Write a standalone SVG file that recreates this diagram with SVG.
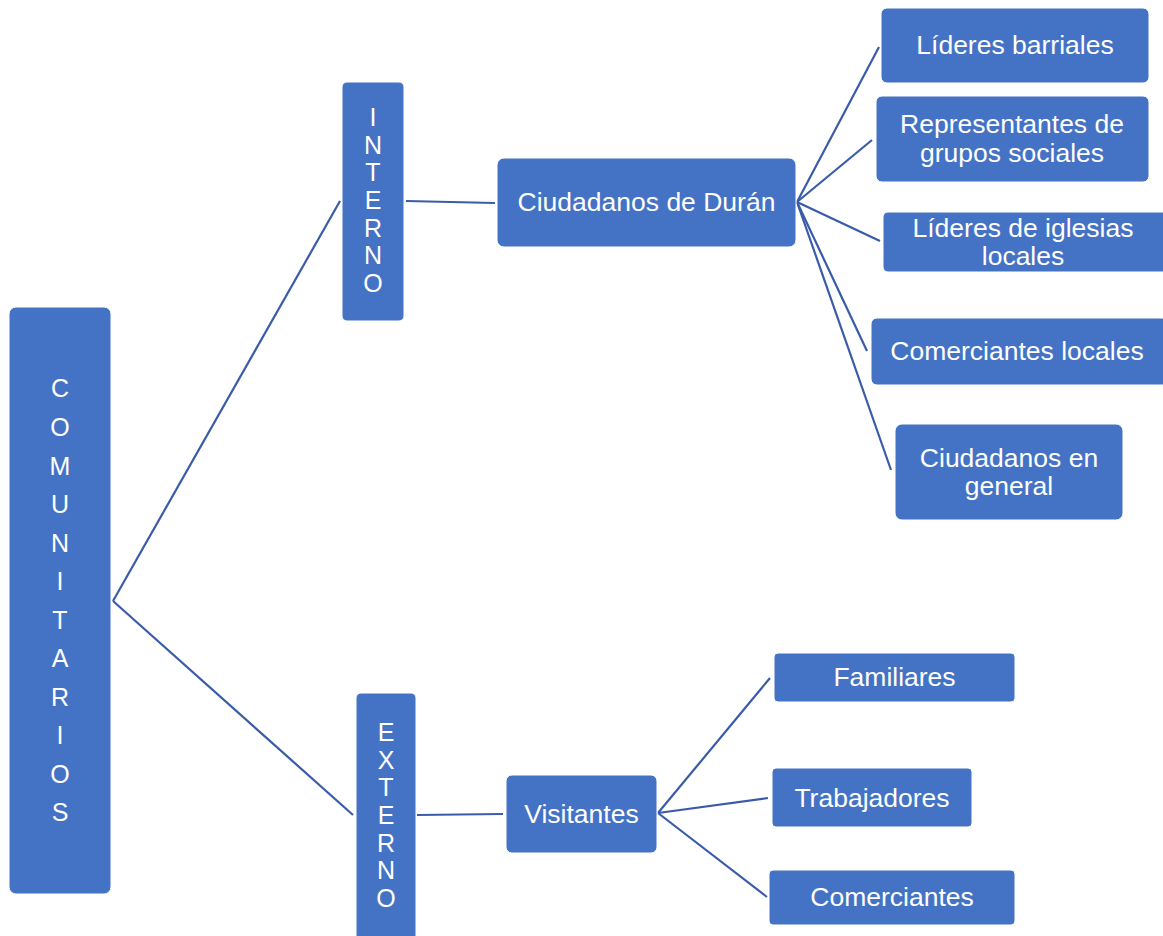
<svg xmlns="http://www.w3.org/2000/svg" width="1163" height="936" viewBox="0 0 1163 936">
<style>
.box{fill:#4472C4;stroke:#ffffff;stroke-width:1}
.t{font-family:"Liberation Sans",Arial,sans-serif;font-size:26.5px;fill:#ffffff;text-anchor:middle}
.v{font-family:"Liberation Sans",Arial,sans-serif;font-size:25px;fill:#ffffff;text-anchor:middle}
.c{stroke:#3A5BA8;stroke-width:2.2;fill:none}
</style>
<rect width="1163" height="936" fill="#ffffff"/>
<g id="connectors">
<line class="c" x1="113" y1="601" x2="340" y2="201"/>
<line class="c" x1="113" y1="601" x2="353" y2="815"/>
<line class="c" x1="406" y1="201" x2="495" y2="203"/>
<line class="c" x1="417" y1="815" x2="503" y2="814"/>
<line class="c" x1="797" y1="202" x2="879" y2="47"/>
<line class="c" x1="797" y1="202" x2="872" y2="140"/>
<line class="c" x1="797" y1="202" x2="880" y2="241"/>
<line class="c" x1="797" y1="202" x2="867" y2="351"/>
<line class="c" x1="797" y1="202" x2="891" y2="470"/>
<line class="c" x1="658" y1="813" x2="770" y2="678"/>
<line class="c" x1="658" y1="813" x2="768" y2="798"/>
<line class="c" x1="658" y1="813" x2="767" y2="897"/>
</g>
<g id="comunitarios">
<rect class="box" x="9" y="307" width="102" height="587" rx="7"/>
<text class="v"><tspan x="60" y="397">C</tspan><tspan x="60" y="436">O</tspan><tspan x="60" y="475">M</tspan><tspan x="60" y="513">U</tspan><tspan x="60" y="552">N</tspan><tspan x="60" y="590">I</tspan><tspan x="60" y="629">T</tspan><tspan x="60" y="667">A</tspan><tspan x="60" y="706">R</tspan><tspan x="60" y="744">I</tspan><tspan x="60" y="783">O</tspan><tspan x="60" y="821">S</tspan></text>
</g>
<g id="interno">
<rect class="box" x="342" y="82" width="62" height="239" rx="5"/>
<text class="v"><tspan x="373" y="126">I</tspan><tspan x="373" y="154">N</tspan><tspan x="373" y="181">T</tspan><tspan x="373" y="209">E</tspan><tspan x="373" y="237">R</tspan><tspan x="373" y="264">N</tspan><tspan x="373" y="292">O</tspan></text>
</g>
<g id="externo">
<rect class="box" x="356" y="693" width="60" height="250" rx="5"/>
<text class="v"><tspan x="386" y="741">E</tspan><tspan x="386" y="769">X</tspan><tspan x="386" y="796">T</tspan><tspan x="386" y="824">E</tspan><tspan x="386" y="852">R</tspan><tspan x="386" y="879">N</tspan><tspan x="386" y="907">O</tspan></text>
</g>
<g id="ciudadanos-duran">
<rect class="box" x="497" y="158" width="299" height="89" rx="7"/>
<text class="t" x="646.5" y="211">Ciudadanos de Durán</text>
</g>
<g id="lideres-barriales">
<rect class="box" x="881" y="8" width="268" height="75" rx="6"/>
<text class="t" x="1015" y="54">Líderes barriales</text>
</g>
<g id="representantes">
<rect class="box" x="876" y="96" width="273" height="86" rx="6"/>
<text class="t"><tspan x="1012" y="133">Representantes de</tspan><tspan x="1012" y="162">grupos sociales</tspan></text>
</g>
<g id="lideres-iglesias">
<rect class="box" x="883" y="212" width="285" height="60" rx="5"/>
<text class="t"><tspan x="1023" y="237">Líderes de iglesias</tspan><tspan x="1023" y="265">locales</tspan></text>
</g>
<g id="comerciantes-locales">
<rect class="box" x="871" y="318" width="297" height="67" rx="6"/>
<text class="t" x="1017" y="360">Comerciantes locales</text>
</g>
<g id="ciudadanos-general">
<rect class="box" x="895" y="424" width="228" height="96" rx="7"/>
<text class="t"><tspan x="1009" y="467">Ciudadanos en</tspan><tspan x="1009" y="495">general</tspan></text>
</g>
<g id="visitantes">
<rect class="box" x="506" y="775" width="151" height="78" rx="6"/>
<text class="t" x="581.5" y="823">Visitantes</text>
</g>
<g id="familiares">
<rect class="box" x="774" y="653" width="241" height="49" rx="4"/>
<text class="t" x="894.5" y="686">Familiares</text>
</g>
<g id="trabajadores">
<rect class="box" x="772" y="768" width="200" height="59" rx="4"/>
<text class="t" x="872" y="807">Trabajadores</text>
</g>
<g id="comerciantes">
<rect class="box" x="769" y="870" width="246" height="55" rx="4"/>
<text class="t" x="892" y="906">Comerciantes</text>
</g>
</svg>
